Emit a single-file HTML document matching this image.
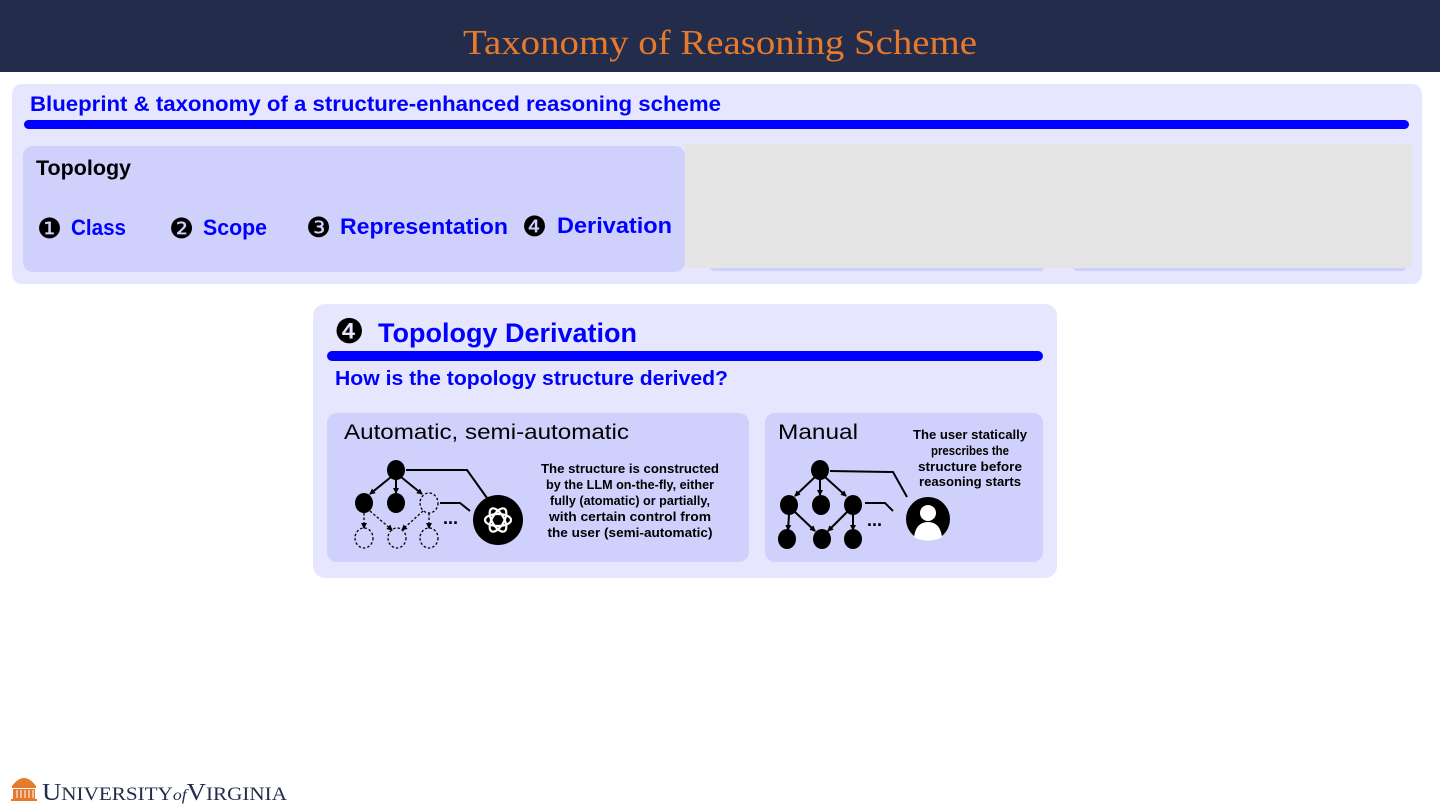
<!DOCTYPE html>
<html><head><meta charset="utf-8"><style>
html,body{margin:0;padding:0;background:#fff;width:1440px;height:810px;overflow:hidden}
svg{display:block}
.b{font-family:"Liberation Sans",sans-serif;font-weight:bold}
</style></head><body>
<svg width="1440" height="810" viewBox="0 0 1440 810" xmlns="http://www.w3.org/2000/svg">
<defs>
<marker id="ar" markerWidth="6" markerHeight="6" refX="5" refY="3" orient="auto" markerUnits="userSpaceOnUse"><path d="M0,0 L6,3 L0,6 z" fill="#000"/></marker>
</defs>
<rect x="0" y="0" width="1440" height="72" fill="#232c4a"/>
<text x="720" y="54" text-anchor="middle" font-family="Liberation Serif,serif" font-size="35" fill="#e57a2c" textLength="514" lengthAdjust="spacingAndGlyphs">Taxonomy of Reasoning Scheme</text>

<rect x="12" y="84" width="1410" height="200" rx="10" fill="#e6e6fe"/>
<text x="30" y="111" class="b" font-size="21" fill="#0000ff" textLength="691" lengthAdjust="spacingAndGlyphs">Blueprint &amp; taxonomy of a structure-enhanced reasoning scheme</text>
<rect x="24" y="120" width="1385" height="9" rx="4.5" fill="#0000ff"/>
<rect x="23" y="146" width="662" height="126" rx="10" fill="#d0d0fc"/>
<rect x="710" y="262" width="334" height="9" rx="4" fill="#d0d0fc"/>
<rect x="1073" y="262" width="333" height="9" rx="4" fill="#d0d0fc"/>
<rect x="685" y="144" width="727" height="124" fill="#e4e4e4"/>
<text x="36" y="175" class="b" font-size="21" fill="#000" textLength="95" lengthAdjust="spacingAndGlyphs">Topology</text>
<g font-family="DejaVu Sans,sans-serif" font-size="28" fill="#000">
<text x="37" y="238">❶</text><text x="169" y="238">❷</text><text x="306" y="237">❸</text><text x="522" y="236">❹</text>
</g>
<g class="b" font-size="22" fill="#0000ff">
<text x="71" y="235" textLength="55" lengthAdjust="spacingAndGlyphs">Class</text>
<text x="203" y="235" textLength="64" lengthAdjust="spacingAndGlyphs">Scope</text>
<text x="340" y="234" textLength="168" lengthAdjust="spacingAndGlyphs">Representation</text>
<text x="557" y="233" textLength="115" lengthAdjust="spacingAndGlyphs">Derivation</text>
</g>

<rect x="313" y="304" width="744" height="274" rx="12" fill="#e6e6fe"/>
<text x="334" y="343" font-family="DejaVu Sans,sans-serif" font-size="34" fill="#000">❹</text>
<text x="378" y="342" class="b" font-size="27" fill="#0000ff" textLength="259" lengthAdjust="spacingAndGlyphs">Topology Derivation</text>
<rect x="327" y="351" width="716" height="10" rx="5" fill="#0000ff"/>
<text x="335" y="385" class="b" font-size="20" fill="#0000ff" textLength="393" lengthAdjust="spacingAndGlyphs">How is the topology structure derived?</text>

<rect x="327" y="413" width="422" height="149" rx="10" fill="#d0d0fc"/>
<rect x="765" y="413" width="278" height="149" rx="10" fill="#d0d0fc"/>
<text x="344" y="439" font-family="Liberation Sans,sans-serif" font-size="21" fill="#000" textLength="285" lengthAdjust="spacingAndGlyphs">Automatic, semi-automatic</text>
<text x="778" y="439" font-family="Liberation Sans,sans-serif" font-size="21" fill="#000" textLength="80" lengthAdjust="spacingAndGlyphs">Manual</text>

<g class="b" font-size="12.5" fill="#000" text-anchor="middle">
<text x="630" y="473" textLength="178" lengthAdjust="spacingAndGlyphs">The structure is constructed</text>
<text x="630" y="489" textLength="168" lengthAdjust="spacingAndGlyphs">by the LLM on-the-fly, either</text>
<text x="630" y="505" textLength="160" lengthAdjust="spacingAndGlyphs">fully (atomatic) or partially,</text>
<text x="630" y="521" textLength="162" lengthAdjust="spacingAndGlyphs">with certain control from</text>
<text x="630" y="537" textLength="165" lengthAdjust="spacingAndGlyphs">the user (semi-automatic)</text>
<text x="970" y="439" textLength="114" lengthAdjust="spacingAndGlyphs">The user statically</text>
<text x="970" y="455" textLength="78" lengthAdjust="spacingAndGlyphs">prescribes the</text>
<text x="970" y="471" textLength="104" lengthAdjust="spacingAndGlyphs">structure before</text>
<text x="970" y="486" textLength="102" lengthAdjust="spacingAndGlyphs">reasoning starts</text>
</g>

<!-- auto graph -->
<g stroke="#000" stroke-width="2" fill="none">
<line x1="391" y1="477" x2="370" y2="494" marker-end="url(#ar)"/>
<line x1="396" y1="479" x2="396" y2="493" marker-end="url(#ar)"/>
<line x1="401" y1="477" x2="422" y2="494" marker-end="url(#ar)"/>
<polyline points="406,470 467,470 487,498"/>
<polyline points="440,503 460,503 470,511"/>
</g>
<g stroke="#000" stroke-width="1.3" fill="none" stroke-dasharray="2.5,2">
<line x1="364" y1="513" x2="364" y2="528" marker-end="url(#ar)"/>
<line x1="370" y1="511" x2="392" y2="530" marker-end="url(#ar)"/>
<line x1="423" y1="511" x2="402" y2="530" marker-end="url(#ar)"/>
<line x1="429" y1="513" x2="429" y2="528" marker-end="url(#ar)"/>
<ellipse cx="429" cy="503" rx="9" ry="10" fill="#d0d0fc"/>
<ellipse cx="364" cy="538" rx="9" ry="10"/>
<ellipse cx="397" cy="538" rx="9" ry="10"/>
<ellipse cx="429" cy="538" rx="9" ry="10"/>
</g>
<ellipse cx="396" cy="470" rx="9" ry="10" fill="#000"/>
<ellipse cx="364" cy="503" rx="9" ry="10" fill="#000"/>
<ellipse cx="396" cy="503" rx="9" ry="10" fill="#000"/>
<text x="443" y="524" class="b" font-size="18" fill="#000">...</text>
<circle cx="498" cy="520" r="25" fill="#000"/>
<g stroke="#fff" stroke-width="2.2" fill="none">
<ellipse cx="498" cy="520" rx="13" ry="6" transform="rotate(0 498 520)"/>
<ellipse cx="498" cy="520" rx="13" ry="6" transform="rotate(60 498 520)"/>
<ellipse cx="498" cy="520" rx="13" ry="6" transform="rotate(120 498 520)"/>
</g>

<!-- manual graph -->
<g stroke="#000" stroke-width="2" fill="none">
<line x1="815" y1="477" x2="795" y2="496" marker-end="url(#ar)"/>
<line x1="820" y1="479" x2="820" y2="495" marker-end="url(#ar)"/>
<line x1="825" y1="477" x2="846" y2="496" marker-end="url(#ar)"/>
<line x1="789" y1="515" x2="788" y2="530" marker-end="url(#ar)"/>
<line x1="795" y1="512" x2="815" y2="531" marker-end="url(#ar)"/>
<line x1="847" y1="512" x2="828" y2="531" marker-end="url(#ar)"/>
<line x1="853" y1="515" x2="853" y2="530" marker-end="url(#ar)"/>
<polyline points="830,471 893,472 907,497"/>
<polyline points="865,503 885,503 893,511"/>
</g>
<g fill="#000">
<ellipse cx="820" cy="470" rx="9" ry="10"/>
<ellipse cx="789" cy="505" rx="9" ry="10"/>
<ellipse cx="821" cy="505" rx="9" ry="10"/>
<ellipse cx="853" cy="505" rx="9" ry="10"/>
<ellipse cx="787" cy="539" rx="9" ry="10"/>
<ellipse cx="822" cy="539" rx="9" ry="10"/>
<ellipse cx="853" cy="539" rx="9" ry="10"/>
</g>
<text x="867" y="526" class="b" font-size="18" fill="#000">...</text>
<circle cx="928" cy="519" r="22" fill="#000"/>
<circle cx="928" cy="513" r="8" fill="#fff"/>
<path d="M914,537 Q916,522 928,522 Q940,522 942,537 Q928,545 914,537z" fill="#fff"/>

<!-- logo -->
<g fill="#e57a2c">
<path d="M12,786 Q24,770 36,786 z"/>
<rect x="12" y="786" width="24" height="2"/>
<rect x="13" y="789" width="22" height="10"/>
<rect x="11" y="799" width="26" height="2"/>
</g>
<g stroke="#fff" stroke-width="1"><line x1="17" y1="790" x2="17" y2="798"/><line x1="21" y1="790" x2="21" y2="798"/><line x1="25" y1="790" x2="25" y2="798"/><line x1="29" y1="790" x2="29" y2="798"/><line x1="33" y1="790" x2="33" y2="798"/></g>
<text x="42" y="800" font-family="Liberation Serif,serif" font-size="24" fill="#232c4a" textLength="245" lengthAdjust="spacingAndGlyphs">U<tspan font-size="19">NIVERSITY</tspan><tspan font-style="italic" font-size="16">of</tspan>V<tspan font-size="19">IRGINIA</tspan></text>
</svg>
</body></html>
